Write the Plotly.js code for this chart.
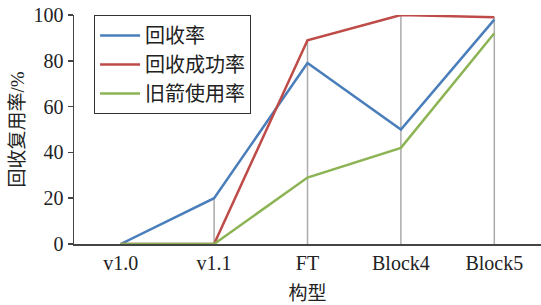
<!DOCTYPE html>
<html>
<head>
<meta charset="utf-8">
<script src="https://cdn.plot.ly/plotly-3.0.1.min.js"></script>
<style>html,body{margin:0;padding:0;background:#fff;}#chart{width:541px;height:305px;}</style>
</head>
<body>
<div id="chart"></div>
<script>
const categories = ["v1.0", "v1.1", "FT", "Block4", "Block5"];
const recoveryRate = [0, 20, 79, 50, 98];
const recoverySuccessRate = [0, 0, 89, 100, 99];
const reuseRate = [0, 0, 29, 42, 92];
const seriesNames = ["回收率", "回收成功率", "旧箭使用率"];
const yTicks = [0, 20, 40, 60, 80, 100];

const FONT = "Liberation Serif, Times New Roman, Noto Sans CJK SC, serif";

// drop lines: from the highest series value down to the axis at each category
const dropX = [], dropY = [];
categories.forEach((c, i) => {
  const top = Math.max(recoveryRate[i], recoverySuccessRate[i], reuseRate[i]);
  dropX.push(c, c, null);
  dropY.push(top, 0, null);
});

const traces = [
  {x: dropX, y: dropY, mode: "lines", line: {color: "#ababab", width: 1.5},
   showlegend: false, hoverinfo: "skip"},
  {x: categories, y: recoveryRate, name: seriesNames[0], mode: "lines",
   line: {color: "#4a7ebb", width: 2.5}},
  {x: categories, y: recoverySuccessRate, name: seriesNames[1], mode: "lines",
   line: {color: "#be4b48", width: 2.5}},
  {x: categories, y: reuseRate, name: seriesNames[2], mode: "lines",
   line: {color: "#8cb455", width: 2.5}}
];

const layout = {
  width: 541, height: 305,
  margin: {l: 74, r: 0, t: 15, b: 61},
  paper_bgcolor: "#fff", plot_bgcolor: "#fff",
  font: {family: FONT, size: 20, color: "#222"},
  showlegend: true,
  legend: {
    x: 0.043, y: 1.0, xanchor: "left", yanchor: "top",
    bordercolor: "#333", borderwidth: 1, bgcolor: "#fff",
    font: {family: FONT, size: 20, color: "#222"},
    tracegroupgap: 0, itemwidth: 40
  },
  xaxis: {
    type: "category", categoryarray: categories, range: [-0.5, 4.5],
    showline: true, linecolor: "#444", linewidth: 1.5,
    showgrid: false, zeroline: false, ticks: "",
    tickfont: {family: FONT, size: 20, color: "#222"},
    title: {text: "构型", font: {family: FONT, size: 19, color: "#222"}, standoff: 14}
  },
  yaxis: {
    range: [0, 100], tickvals: yTicks, ticktext: yTicks.map(String),
    showline: true, linecolor: "#444", linewidth: 1.5,
    showgrid: false, zeroline: false,
    ticks: "outside", ticklen: 5, tickcolor: "#444", tickwidth: 1.5,
    tickfont: {family: FONT, size: 20, color: "#222"},
    title: {text: "回收复用率/%", font: {family: FONT, size: 19, color: "#222"}, standoff: 4}
  }
};

Plotly.newPlot("chart", traces, layout, {displayModeBar: false, staticPlot: true});
</script>
</body>
</html>
